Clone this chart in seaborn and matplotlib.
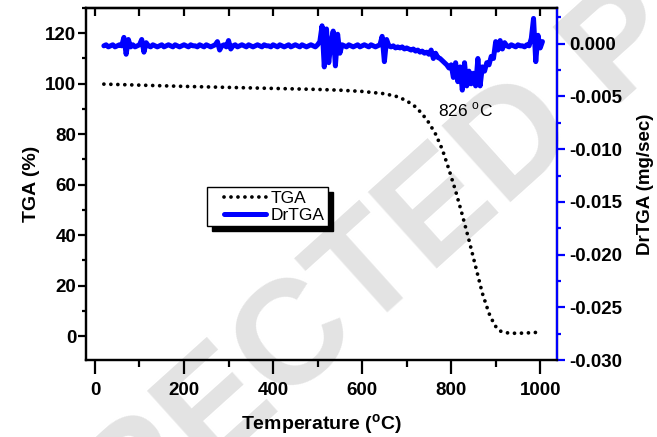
import numpy as np
import pandas as pd
import matplotlib
matplotlib.use("Agg")
import matplotlib.pyplot as plt
from matplotlib.ticker import MultipleLocator
from matplotlib.lines import Line2D
from matplotlib.legend_handler import HandlerLine2D
import seaborn as sns

# TGA mass loss curve (temperature in degC, mass in %)
tga_temp = [20, 100, 200, 300, 400, 500, 550, 600, 650, 680, 700, 720, 735, 750,
            765, 780, 795, 810, 825, 840, 855, 870, 885, 898, 910, 925, 945, 965,
            985, 995]
tga_mass = [99.8, 99.4, 98.9, 98.5, 98.1, 97.7, 97.4, 96.9, 96.0, 94.8, 93.2, 90.8,
            88.0, 84.5, 80.0, 74.0, 66.0, 57.5, 48.0, 38.0, 27.5, 17.0, 9.0, 4.2,
            2.0, 1.3, 1.1, 1.2, 1.4, 1.5]

# Derivative signal sampled every 5 degC from 20 to 1005 degC, in units of 1e-4 mg/sec
dtg_start, dtg_stop, dtg_step = 20, 1005, 5
dtg_e4 = [
    -2, -1, -3, -2, -1, -3, -2, -1, -2,                     # 20-60
    6, -10, 4, -3,                                          # 65-80
    -1, -3, -2, -1,                                         # 85-100
    4, -8, 1,                                               # 105-115
    -2, -3, -1, -2, -3, -2, -1, -3, -2, -1, -2, -3, -1, -2, -3, -2,
    -1, -2, -3, -1, -2, -2, -3, -1, -2, -3, -1, -2, -3, -2, -1,   # 120-270
    2, -6,                                                  # 275-280
    -2, -1, -3,                                             # 285-295
    3, -5,                                                  # 300-305
    -2, -1, -3, -2, -1, -2, -3, -1, -2, -3, -2, -1, -2, -3, -1, -2,
    -2, -3, -1, -2, -3, -1, -2, -3, -2, -1, -3, -2, -1, -2, -3, -1,
    -2, -3, -2, -1, -2, -3, -1,                             # 310-500
    2, 17, -22, 14, -18, 1, 12, -21, 9, -9, -1,             # 505-555
    -2, -3, -1, -2, -3, -2, -1, -3, -2, -1, -2, -3, -1, -2, -3, -2, -1,  # 560-640
    7, -17, 4,                                              # 645-655
    -2, -3, -2, -4, -3, -4, -3, -5, -4,                     # 660-700
    -5, -6, -5, -7, -6, -8, -7, -9, -8, -10,                # 705-750
    -6, -14, -9,                                            # 755-765
    -13, -14, -16, -18, -20, -23,                           # 770-795
    -20, -32, -18, -36, -22, -44, -18, -40, -26, -38, -28, -40, -14, -40, -22,  # 800-870
    -26, -18, -20, -12, -14, 2,                             # 875-900
    -6, 3, -5, 1, -2, -3, -1, -2, -3, -1, -2, -2, -3, -1, -2,  # 905-975
    5, 24, -17, 8, -4, 2,                                   # 980-1005
]
dtg_temp = np.arange(dtg_start, dtg_stop + 1, dtg_step)
dtg_val = np.array(dtg_e4) * 1e-4
assert len(dtg_temp) == len(dtg_val)

peak_temp = 826
x_ticks = [0, 200, 400, 600, 800, 1000]
y_left_ticks = [0, 20, 40, 60, 80, 100, 120]
y_right_ticks = [0.000, -0.005, -0.010, -0.015, -0.020, -0.025, -0.030]

sns.set_style("ticks")
plt.rcParams["font.family"] = ["Liberation Sans", "DejaVu Sans"]
plt.rcParams["mathtext.fontset"] = "custom"
plt.rcParams["mathtext.rm"] = "Liberation Sans"
plt.rcParams["mathtext.bf"] = "Liberation Sans:bold"
for key in ("text.color", "axes.labelcolor", "xtick.color", "ytick.color"):
    plt.rcParams[key] = "black"

fig = plt.figure(figsize=(6.57, 4.37), dpi=100)
fig.patch.set_facecolor("white")

# light diagonal stamp behind the chart
fig.text(366 / 657, 1 - 333 / 437, "UNCORRECTED PROOF", rotation=42,
         rotation_mode="anchor", ha="center", va="baseline", fontsize=107,
         fontweight="bold", color="#e3e3e3", zorder=-5)

ax = fig.add_axes([0.131, 0.176, 0.717, 0.806])
ax.set_facecolor("none")
ax2 = ax.twinx()

df_tga = pd.DataFrame({"Temperature": tga_temp, "TGA": tga_mass})
df_dtg = pd.DataFrame({"Temperature": dtg_temp, "DrTGA": dtg_val})

sns.lineplot(data=df_tga, x="Temperature", y="TGA", ax=ax, color="black",
             linewidth=2.7, linestyle=(0, (0.01, 1.85)), dash_capstyle="round",
             legend=False)
sns.lineplot(data=df_dtg, x="Temperature", y="DrTGA", ax=ax2, color="#0000ff",
             linewidth=3.6, legend=False)

ax.set_xlim(-20, 1038)
ax.set_ylim(-9.5, 130)
ax2.set_ylim(-0.030, 0.0034)

tick_font = dict(fontsize=13.5, fontweight="bold")
ax.set_xticks(x_ticks)
ax.set_xticklabels([str(v) for v in x_ticks], **tick_font)
ax.xaxis.set_minor_locator(MultipleLocator(100))
ax.set_yticks(y_left_ticks)
ax.set_yticklabels([str(v) for v in y_left_ticks], **tick_font)
ax.yaxis.set_minor_locator(MultipleLocator(10))
ax2.set_yticks(y_right_ticks)
ax2.set_yticklabels([f"{v:.3f}" for v in y_right_ticks], **tick_font)
ax2.yaxis.set_minor_locator(MultipleLocator(0.0025))

for a in (ax, ax2):
    for s in a.spines.values():
        s.set_linewidth(1.6)
        s.set_color("black")
ax2.spines["right"].set_color("#0000ff")

ax.tick_params(axis="x", which="major", direction="out", length=10, width=1.6,
               color="black", pad=5.5)
ax.tick_params(axis="x", which="minor", direction="out", length=5, width=1.6,
               color="black")
ax.tick_params(axis="y", which="major", direction="out", length=5.5, width=1.6,
               color="black", pad=1.5)
ax.tick_params(axis="y", which="minor", direction="out", length=3, width=1.6,
               color="black")
ax2.tick_params(axis="y", which="major", direction="out", length=5.5, width=1.6,
                color="#0000ff", pad=3)
ax2.tick_params(axis="y", which="minor", direction="out", length=3, width=1.6,
                color="#0000ff")

# inward ticks along the top edge
top = ax.secondary_xaxis("top")
top.set_xticks(list(range(0, 1001, 100)))
top.tick_params(direction="in", length=6, width=1.6, labeltop=False)
top.spines["top"].set_linewidth(1.6)

ax.set_xlabel(r"Temperature ($^{\mathbf{o}}$C)", fontsize=14, fontweight="bold", labelpad=10)
ax.set_ylabel("TGA (%)", fontsize=14, fontweight="bold", labelpad=4)
ax2.set_ylabel("DrTGA (mg/sec)", fontsize=13.5, fontweight="bold", labelpad=11)

ax.text(833, 89.5, r"826 $^{\rm o}$C", ha="center", va="center", fontsize=12.5)


class InsetLineHandler(HandlerLine2D):
    """Legend line that starts a little to the right of the handle box."""

    def __init__(self, inset=0.25, **kw):
        super().__init__(**kw)
        self.inset = inset

    def create_artists(self, legend, orig_handle, xdescent, ydescent, width,
                       height, fontsize, trans):
        shift = self.inset * width
        return super().create_artists(legend, orig_handle, xdescent - shift,
                                      ydescent, width - shift, height,
                                      fontsize, trans)


h_tga = ax.get_lines()[0]
h_dtg = ax2.get_lines()[0]
leg = ax2.legend([h_tga, h_dtg], ["TGA", "DrTGA"], loc="upper left",
                 bbox_to_anchor=(0.257, 0.491), fontsize=12.5, frameon=True,
                 fancybox=False, framealpha=1, edgecolor="black",
                 handlelength=3.17, handletextpad=0.29, borderpad=0.2,
                 labelspacing=0.1, borderaxespad=0,
                 handler_map={Line2D: InsetLineHandler(inset=0.25)},
                 shadow={"ox": 3.6, "oy": -3.6, "facecolor": "black",
                         "edgecolor": "black", "alpha": 1})
leg.get_frame().set_linewidth(1.0)

fig.savefig("out.png", dpi=100)
